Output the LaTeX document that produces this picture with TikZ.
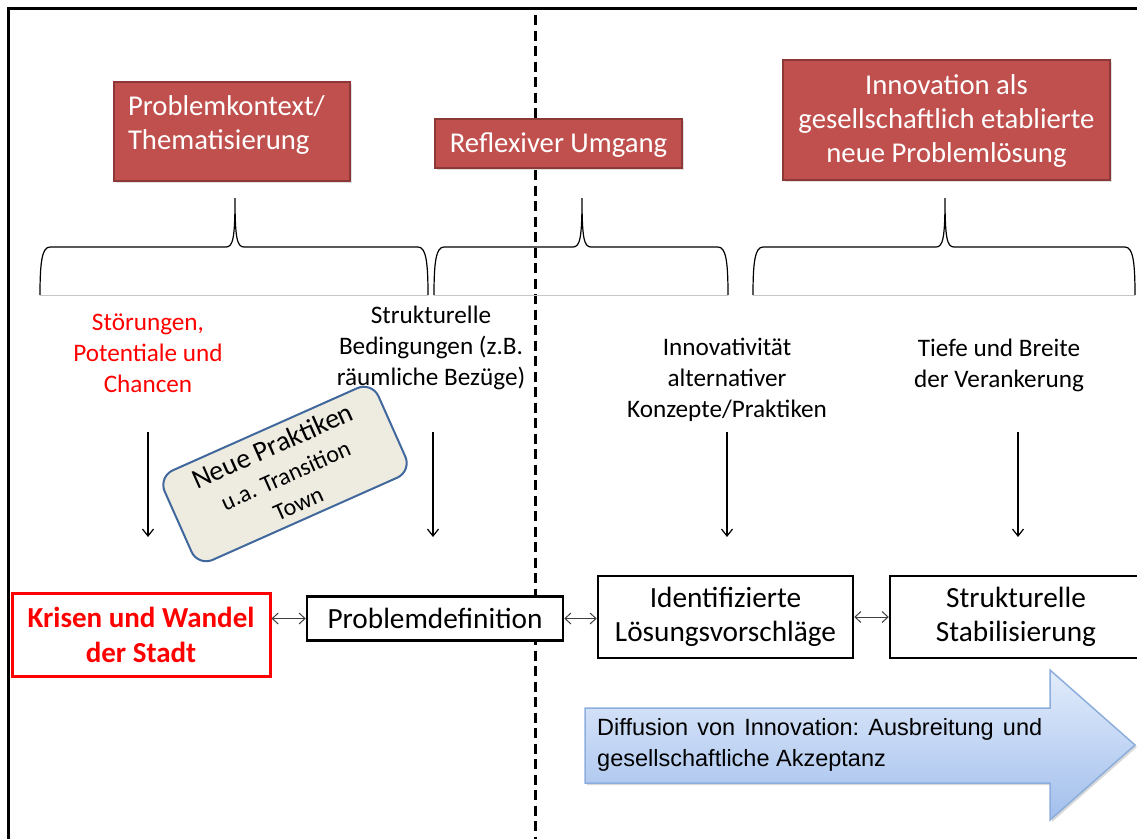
\documentclass[tikz,border=0pt]{standalone}
\usepackage{fontspec}
\setmainfont{Carlito}
\newfontfamily\arialf{Liberation Sans}
\usetikzlibrary{arrows.meta,shadows}
\definecolor{hdred}{HTML}{C0504D}
\definecolor{hdredb}{HTML}{8C3836}
\definecolor{pbeige}{HTML}{EEECE1}
\definecolor{pblue}{HTML}{41689C}
\definecolor{arlight}{HTML}{E2ECFB}
\definecolor{ardark}{HTML}{A2BFEC}
\definecolor{arborder}{HTML}{8CAEDC}
\definecolor{kred}{HTML}{FF0000}
\newcommand\mybrace[3]{%
  \draw[line width=1.2pt] (#1,295) .. controls (#1,262) and (#1+2,247) .. (#1+10,247)
    -- (#2-9,247) .. controls (#2-2,247) and (#2,238) .. (#2,198)
    .. controls (#2,238) and (#2+2,247) .. (#2+9,247)
    -- (#3-10,247) .. controls (#3-2,247) and (#3,262) .. (#3,295);
  \draw[gray!45, line width=0.8pt] (#1,295) -- (#3,295);}
\begin{document}
\begin{tikzpicture}[x=1pt,y=-1pt,
  hdbox/.style={fill=hdred, draw=hdredb, line width=1.5pt, inner sep=0pt,
    drop shadow={opacity=0.25, shadow xshift=1.5pt, shadow yshift=-1.5pt}},
  hdtext/.style={text=white, inner sep=0pt, font=\fontsize{28.7}{34}\selectfont},
  lbl/.style={inner sep=0pt, align=center, font=\fontsize{25.2}{31}\selectfont},
  wbox/.style={fill=white, draw=black, line width=2.5pt, inner sep=0pt, align=center,
    font=\fontsize{29.3}{34}\selectfont},
  downarr/.style={line width=1.2pt, -{Straight Barb[length=7pt,width=11pt]}},
  dblarr/.style={line width=1pt, draw=black!75, {Straight Barb[length=6pt,width=11pt]}-{Straight Barb[length=6pt,width=11pt]}}
]
\useasboundingbox (0,0) rectangle (1137,838);
\clip (0,0) rectangle (1137,838);
\fill[white] (0,0) rectangle (1137,838);
% frame
\draw[line width=3pt] (8,860) -- (8,8.5) -- (1160,8.5);
% dashed separator
\draw[line width=3pt, dash pattern=on 10pt off 5.5pt] (535,15) -- (535,845);

% header boxes
\node[hdbox, minimum width=236, minimum height=99] (h1) at (232,131.5) {};
\node[hdtext, align=left, text width=208] (h1t) at (232,125) {Problemkontext/\\Thematisierung};
\node[hdbox, minimum width=247, minimum height=49] (h2) at (558.5,143.5) {};
\node[hdtext] (h2t) at (558.5,145) {Reflexiver Umgang};
\node[hdbox, minimum width=327, minimum height=120] (h3) at (946.5,120) {};
\node[hdtext, align=center] (h3t) at (946.5,121) {Innovation als\\gesellschaftlich etablierte\\neue Problemlösung};

% braces
\mybrace{40}{235}{428}
\mybrace{434}{582}{728}
\mybrace{753}{945}{1135}

% labels
\node[lbl, text=kred] (l1) at (148,353) {Störungen,\\Potentiale und\\Chancen};
\node[lbl] (l2) at (431,348) {Strukturelle\\Bedingungen (z.B.\\räumliche Bezüge)};
\node[lbl] (l3) at (727,380) {Innovativität\\alternativer\\Konzepte/Praktiken};
\node[lbl] (l4) at (999,365) {Tiefe und Breite\\der Verankerung};

% down arrows
\coordinate (a1s) at (148,432); \coordinate (a1e) at (148,537);
\coordinate (a2s) at (433,432); \coordinate (a2e) at (433,537);
\coordinate (a3s) at (727,432); \coordinate (a3e) at (727,537);
\coordinate (a4s) at (1018,432); \coordinate (a4e) at (1018,537);
\draw[downarr] (a1s) -- (a1e);
\draw[downarr] (a2s) -- (a2e);
\draw[downarr] (a3s) -- (a3e);
\draw[downarr] (a4s) -- (a4e);

% rotated new practices box
\node[rotate=24, fill=pbeige, draw=pblue, line width=2pt, rounded corners=16pt,
  minimum width=234, minimum height=98, inner sep=0pt, align=center,
  font=\fontsize{24}{31}\selectfont] (np) at (285,474)
  {{\fontsize{28}{31}\selectfont Neue Praktiken}\\u.a. Transition\\Town};

% bottom boxes
\node[wbox, draw=kred, line width=3pt, text=kred, minimum width=258, minimum height=83,
  font=\fontsize{29}{35}\selectfont\bfseries] (kr) at (141,634.5) {Krisen und Wandel\\der Stadt};
\node[wbox, minimum width=256, minimum height=44] (pd) at (435,618.5) {Problemdefinition};
\node[wbox, minimum width=255, minimum height=82] (il) at (725.5,617) {Identifizierte\\Lösungsvorschläge};
\node[wbox, minimum width=252, minimum height=82] (ss) at (1016,617) {Strukturelle\\Stabilisierung};

\draw[dblarr] (pd.west -| kr.east) -- (pd.west);
\draw[dblarr] (pd.east) -- (pd.east -| il.west);
\draw[dblarr] (il.east) -- (ss.west);

% diffusion arrow
\path[draw=arborder, line width=1.5pt, top color=arlight, bottom color=ardark,
  drop shadow={opacity=0.3, shadow xshift=2pt, shadow yshift=-2pt}]
  (585,708) -- (1050,708) -- (1050,670) -- (1135,745) -- (1050,820) -- (1050,783) -- (585,783) -- cycle;
\node[anchor=west, inner sep=0pt, align=left, font=\arialf\fontsize{23.5}{31}\selectfont\frenchspacing] (df) at (597,745)
  {\makebox[445pt][s]{Diffusion von Innovation: Ausbreitung und}\\gesellschaftliche Akzeptanz};
\end{tikzpicture}
\end{document}
